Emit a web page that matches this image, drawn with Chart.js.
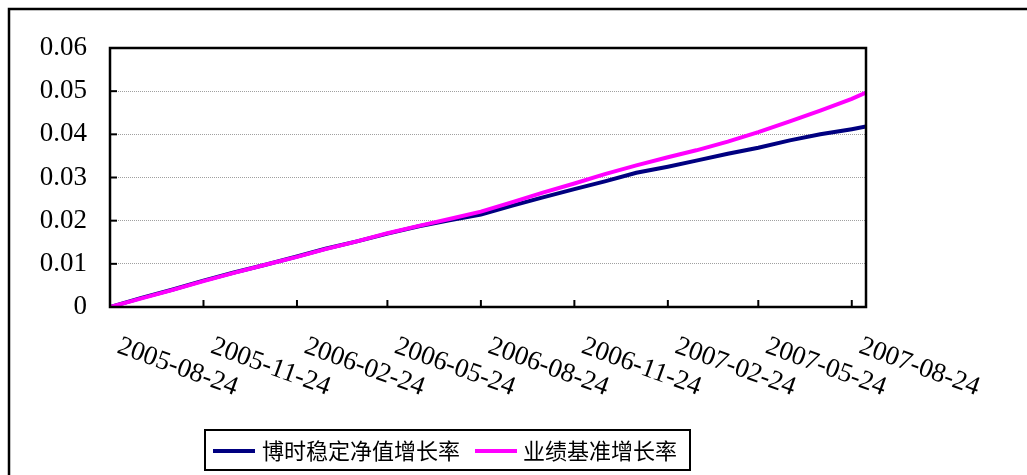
<!DOCTYPE html>
<html>
<head>
<meta charset="utf-8">
<script src="https://cdn.jsdelivr.net/npm/chart.js@4/dist/chart.umd.min.js"></script>
<style>
  html, body { margin: 0; padding: 0; background: #fff; }
  #wrap { width: 1027px; height: 475px; position: relative; }
</style>
</head>
<body>
<div id="wrap"><canvas id="growthChart"></canvas></div>
<script>
// data (monthly samples)
const dates = ['2005-08-24', '2005-09-24', '2005-10-24', '2005-11-24', '2005-12-24', '2006-01-24',
    '2006-02-24', '2006-03-24', '2006-04-24', '2006-05-24', '2006-06-24', '2006-07-24',
    '2006-08-24', '2006-09-24', '2006-10-24', '2006-11-24', '2006-12-24', '2007-01-24',
    '2007-02-24', '2007-03-24', '2007-04-24', '2007-05-24', '2007-06-24', '2007-07-24',
    '2007-08-24', '2007-09-07'];
const fundGrowth = [0, 0.0021, 0.0040, 0.0061, 0.0080, 0.0098, 0.0117, 0.0135, 0.0152, 0.0170,
    0.0187, 0.0201, 0.0214, 0.0235, 0.0254, 0.0273, 0.0291, 0.0311, 0.0325, 0.0339,
    0.0355, 0.0369, 0.0386, 0.0400, 0.0412, 0.0418];
const benchGrowth = [0, 0.0020, 0.0039, 0.0060, 0.0079, 0.0098, 0.0116, 0.0134, 0.0152, 0.0171,
    0.0188, 0.0204, 0.0221, 0.0243, 0.0265, 0.0286, 0.0308, 0.0328, 0.0347, 0.0363,
    0.0383, 0.0405, 0.0430, 0.0455, 0.0482, 0.0497];
const tickLabels = ['2005-08-24', '2005-11-24', '2006-02-24', '2006-05-24', '2006-08-24',
    '2006-11-24', '2007-02-24', '2007-05-24', '2007-08-24'];
const seriesNames = ['博时稳定净值增长率', '业绩基准增长率'];

const dayOf = d => (Date.parse(d) - Date.parse(dates[0])) / 86400000;
const toPoints = vals => vals.map((v, i) => ({ x: dayOf(dates[i]), y: v }));

const frame = {
    id: 'frame',
    beforeDraw(chart) {
        const c = chart.ctx;
        c.save();
        c.fillStyle = '#fff';
        c.fillRect(0, 0, chart.width, chart.height);
        c.strokeStyle = '#000';
        c.lineWidth = 2.5;
        c.strokeRect(9, 9, chart.width + 50, chart.height + 50);
        c.restore();
    },
    afterDraw(chart) {
        const c = chart.ctx;
        const a = chart.chartArea;
        const xs = chart.scales.x, ys = chart.scales.y;
        c.save();
        c.strokeStyle = '#000';
        c.lineWidth = 2.5;
        c.strokeRect(a.left, a.top, a.right - a.left, a.bottom - a.top);
        c.lineWidth = 2;
        // inside tick marks
        ys.ticks.forEach(t => {
            const y = ys.getPixelForValue(t.value);
            c.beginPath(); c.moveTo(a.left, y); c.lineTo(a.left + 7, y); c.stroke();
        });
        xs.ticks.forEach(t => {
            const x = xs.getPixelForValue(t.value);
            c.beginPath(); c.moveTo(x, a.bottom); c.lineTo(x, a.bottom - 7); c.stroke();
        });
        // slanted date labels
        c.fillStyle = '#000';
        c.font = '27px "Liberation Serif", serif';
        c.textAlign = 'left';
        c.textBaseline = 'top';
        xs.ticks.forEach((t, i) => {
            const x = xs.getPixelForValue(t.value);
            c.save();
            c.translate(x + 13, a.bottom + 26);
            c.rotate(20 * Math.PI / 180);
            c.fillText(tickLabels[i], 0, 0);
            c.restore();
        });
        // legend box
        c.lineWidth = 2;
        c.strokeRect(205, 430, 485, 40);
        c.font = '22px "Noto Sans CJK SC", sans-serif';
        c.textBaseline = 'middle';
        const items = [[213, 262], [475, 523]];
        chart.data.datasets.forEach((ds, i) => {
            c.strokeStyle = ds.borderColor;
            c.lineWidth = 4;
            c.beginPath(); c.moveTo(items[i][0], 451); c.lineTo(items[i][0] + 42, 451); c.stroke();
            c.fillText(ds.label, items[i][1], 451);
        });
        c.restore();
    }
};

const ctx = document.getElementById('growthChart').getContext('2d');
const growthChart = new Chart(ctx, {
    type: 'line',
    data: {
        datasets: [{
            label: seriesNames[0],
            data: toPoints(fundGrowth),
            borderColor: '#000080',
            borderWidth: 4,
            pointRadius: 0,
            tension: 0,
            order: 1
        }, {
            label: seriesNames[1],
            data: toPoints(benchGrowth),
            borderColor: '#FF00FF',
            borderWidth: 4,
            pointRadius: 0,
            tension: 0,
            order: 0
        }]
    },
    options: {
        responsive: true,
        maintainAspectRatio: false,
        animation: false,
        layout: {
            padding: { left: 30, top: 48, right: 161, bottom: 168 }
        },
        plugins: {
            legend: { display: false },
            tooltip: { enabled: false }
        },
        scales: {
            x: {
                type: 'linear',
                min: 0,
                max: dayOf(dates[dates.length - 1]),
                afterBuildTicks: s => { s.ticks = tickLabels.map(d => ({ value: dayOf(d) })); },
                ticks: { display: false },
                grid: { display: false, drawTicks: false },
                border: { display: false },
                afterFit: s => { s.height = 0; }
            },
            y: {
                min: 0,
                max: 0.06,
                ticks: {
                    stepSize: 0.01,
                    padding: 23,
                    color: '#000',
                    font: { family: '"Liberation Serif", serif', size: 27 },
                    callback: v => v === 0 ? '0' : v.toFixed(2)
                },
                grid: { color: '#a0a0a0', lineWidth: 1, drawTicks: false },
                border: { display: false, dash: [1, 1] },
                afterFit: s => { s.width = 80; }
            }
        }
    },
    plugins: [frame]
});
</script>
</body>
</html>
